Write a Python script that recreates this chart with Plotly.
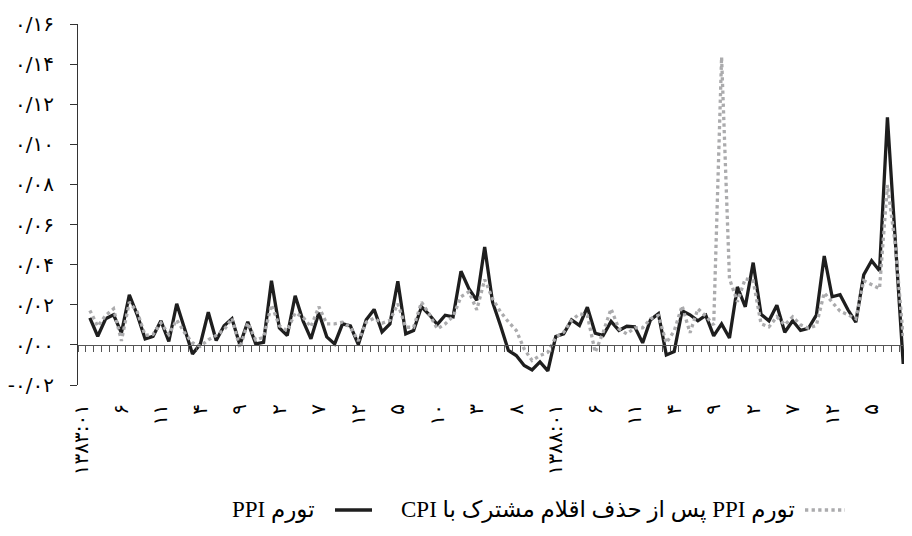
import plotly.graph_objects as go

# ---------------- data ----------------
fa = str.maketrans("0123456789", "۰۱۲۳۴۵۶۷۸۹")
months = [f"{1383 + i // 12}:{i % 12 + 1:02d}".translate(fa) for i in range(105)]

ppi = [None,
       0.0135, 0.0043, 0.0130, 0.0150, 0.0060, 0.0250, 0.0150, 0.0030, 0.0043, 0.0120,
       0.0017, 0.0205, 0.0080, -0.0045, 0.0005, 0.0163, 0.0022, 0.0095, 0.0130, 0.0000,
       0.0115, 0.0005, 0.0013, 0.0320, 0.0085, 0.0047, 0.0245, 0.0120, 0.0030, 0.0160,
       0.0040, 0.0005, 0.0105, 0.0095, 0.0002, 0.0125, 0.0177, 0.0065, 0.0105, 0.0317,
       0.0055, 0.0072, 0.0190, 0.0150, 0.0102, 0.0148, 0.0140, 0.0367, 0.0280, 0.0222,
       0.0488, 0.0213, 0.0097, -0.0028, -0.0053, -0.0103, -0.0125, -0.0085, -0.0130, 0.0042,
       0.0055, 0.0125, 0.0097, 0.0188, 0.0058, 0.0047, 0.0117, 0.0072, 0.0093, 0.0090,
       0.0010, 0.0125, 0.0155, -0.0050, -0.0033, 0.0170, 0.0150, 0.0120, 0.0147, 0.0045,
       0.0105, 0.0034, 0.0289, 0.0190, 0.0410, 0.0152, 0.0120, 0.0198, 0.0063, 0.0120,
       0.0072, 0.0083, 0.0148, 0.0443, 0.0240, 0.0250, 0.0175, 0.0113, 0.0350, 0.0420,
       0.0370, 0.1135, 0.0520, -0.0095]

ppi_excl_cpi = [None,
       0.0172, 0.0093, 0.0147, 0.0180, 0.0020, 0.0213, 0.0165, 0.0047, 0.0052, 0.0110,
       0.0052, 0.0125, 0.0060, 0.0010, -0.0007, 0.0025, 0.0047, 0.0075, 0.0133, -0.0015,
       0.0110, 0.0025, 0.0038, 0.0200, 0.0095, 0.0070, 0.0160, 0.0138, 0.0090, 0.0190,
       0.0105, 0.0105, 0.0113, 0.0088, 0.0020, 0.0113, 0.0133, 0.0108, 0.0122, 0.0205,
       0.0088, 0.0088, 0.0213, 0.0152, 0.0080, 0.0105, 0.0142, 0.0240, 0.0265, 0.0175,
       0.0326, 0.0230, 0.0165, 0.0115, 0.0072, -0.0020, -0.0078, -0.0053, -0.0037, 0.0039,
       0.0063, 0.0122, 0.0155, 0.0147, -0.0037, 0.0063, 0.0180, 0.0080, 0.0055, 0.0085,
       0.0085, 0.0130, 0.0147, 0.0010, 0.0070, 0.0195, 0.0060, 0.0180, 0.0143, 0.0100,
       0.1435, 0.0330, 0.0215, 0.0330, 0.0320, 0.0105, 0.0090, 0.0140, 0.0100, 0.0140,
       0.0100, 0.0083, 0.0097, 0.0260, 0.0213, 0.0168, 0.0150, 0.0130, 0.0320, 0.0300,
       0.0280, 0.0797, 0.0500, 0.0040]

x_tick_text = ["۱۳۸۳:۰۱", "۶", "۱۱", "۴", "۹", "۲", "۷", "۱۲", "۵", "۱۰", "۳", "۸",
               "۱۳۸۸:۰۱", "۶", "۱۱", "۴", "۹", "۲", "۷", "۱۲", "۵"]
x_tick_cats = months[0::5]

y_tick_vals = [-0.02, 0.0, 0.02, 0.04, 0.06, 0.08, 0.10, 0.12, 0.14, 0.16]
y_tick_text = ["-۰/۰۲", "۰/۰۰", "۰/۰۲", "۰/۰۴", "۰/۰۶", "۰/۰۸", "۰/۱۰", "۰/۱۲", "۰/۱۴", "۰/۱۶"]

name_ppi = "تورم PPI"
name_excl = "تورم PPI پس از حذف اقلام مشترک با CPI"

# ---------------- figure ----------------
BLACK = "#1e1e1e"
GRAY = "#ababad"
FA_FONT = "DejaVu Sans"
LEG_FONT = "Liberation Serif, DejaVu Sans"

# the page body has an 8px default margin: the figure is 896 x 520 at page offset (8, 8)
W, H = 896, 520
ML, MR, MT, MB = 70, 0, 16, 143
PW, PH = W - ML - MR, H - MT - MB

x_range = [-0.5, 104.1]

fig = go.Figure()
fig.add_trace(go.Scatter(x=months, y=ppi, mode="lines", name=name_ppi,
                         line=dict(color=BLACK, width=3.3), showlegend=False))
fig.add_trace(go.Scatter(x=months, y=ppi_excl_cpi, mode="lines", name=name_excl,
                         line=dict(color=GRAY, width=3.3, dash="dot"), showlegend=False))
# carrier trace for the zero-line tick axis
fig.add_trace(go.Scatter(x=[], y=[], xaxis="x2", yaxis="y", showlegend=False, hoverinfo="skip"))

y_min, y_max = -0.02, 0.16
zero_pos = (0 - y_min) / (y_max - y_min)

fig.update_layout(
    width=W, height=H,
    margin=dict(l=ML, r=MR, t=MT, b=MB, autoexpand=False),
    paper_bgcolor="white", plot_bgcolor="white",
    xaxis=dict(type="category", categoryorder="array", categoryarray=months,
               range=x_range,
               showline=False, showgrid=False, zeroline=False, ticks="",
               tickmode="array", tickvals=x_tick_cats, ticktext=x_tick_text,
               tickangle=-90, ticklabelstandoff=14,
               tickfont=dict(family=FA_FONT, size=20, color="black")),
    xaxis2=dict(overlaying="x", anchor="free", position=zero_pos, side="bottom",
                type="linear", range=x_range,
                showline=True, linecolor="#555", linewidth=1.2,
                ticks="outside", ticklen=6, tickwidth=1, tickcolor="#555",
                tickmode="linear", tick0=-0.5, dtick=1,
                showticklabels=False, showgrid=False, zeroline=False),
    yaxis=dict(range=[y_min, y_max], showline=True, linecolor="#333", linewidth=1.2,
               ticks="outside", ticklen=7, tickcolor="#333",
               tickmode="array", tickvals=y_tick_vals, ticktext=y_tick_text,
               showgrid=False, zeroline=False, ticklabelstandoff=12,
               tickfont=dict(family=FA_FONT, size=20, color="black")),
)

# ---------------- RTL legend (positions in page pixels of the reference) ----------------
def px_x(px):
    return (px - 8 - ML) / PW

def px_y(py):
    return (H - MB + 8 - py) / PH

leg_y = px_y(510)
fig.add_shape(type="line", xref="paper", yref="paper", x0=px_x(805), x1=px_x(845),
              y0=leg_y, y1=leg_y, line=dict(color=GRAY, width=3.3, dash="dot"))
fig.add_annotation(xref="paper", yref="paper", x=px_x(797), y=leg_y,
                   xanchor="right", yanchor="middle", showarrow=False,
                   text="\u202b" + name_excl + "\u202c",
                   font=dict(family=LEG_FONT, size=23, color="black"))
fig.add_shape(type="line", xref="paper", yref="paper", x0=px_x(335), x1=px_x(372),
              y0=leg_y, y1=leg_y, line=dict(color=BLACK, width=3.3))
fig.add_annotation(xref="paper", yref="paper", x=px_x(317), y=leg_y,
                   xanchor="right", yanchor="middle", showarrow=False,
                   text="\u202b" + name_ppi + "\u202c",
                   font=dict(family=LEG_FONT, size=23, color="black"))

fig.write_html("out.html")
